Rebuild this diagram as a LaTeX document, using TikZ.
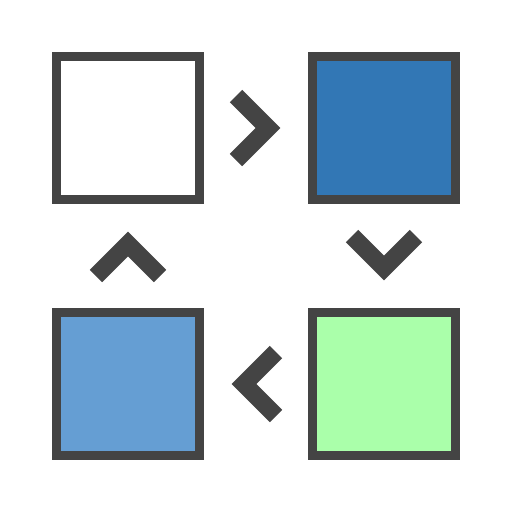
\documentclass[tikz,border=0pt]{standalone}
\definecolor{frame}{HTML}{444444}
\definecolor{darkblue}{HTML}{3277B5}
\definecolor{lightblue}{HTML}{659ED3}
\definecolor{lightgreen}{HTML}{AAFFAA}
\begin{document}
\begin{tikzpicture}
[x=0.02cm, y=-0.02cm,
 box/.style={draw=frame, line width=0.18cm, minimum size=2.88cm, inner sep=0pt},
 chev/.style={draw=frame, line width=0.35cm, miter limit=10}]
\useasboundingbox [fill=white] (0,0) rectangle (512,512);
\node (start) at (128,128) [box, fill=white] {};
\node (first) at (384,128) [box, fill=darkblue] {};
\node (second) at (384,384) [box, fill=lightgreen] {};
\node (third) at (128,384) [box, fill=lightblue] {};
% chevrons between the boxes
\draw [chev] (236,96) -- (268,128) -- (236,160);
\draw [chev] (352,236) -- (384,268) -- (416,236);
\draw [chev] (276,352) -- (244,384) -- (276,416);
\draw [chev] (96,276) -- (128,244) -- (160,276);
\end{tikzpicture}
\end{document}
